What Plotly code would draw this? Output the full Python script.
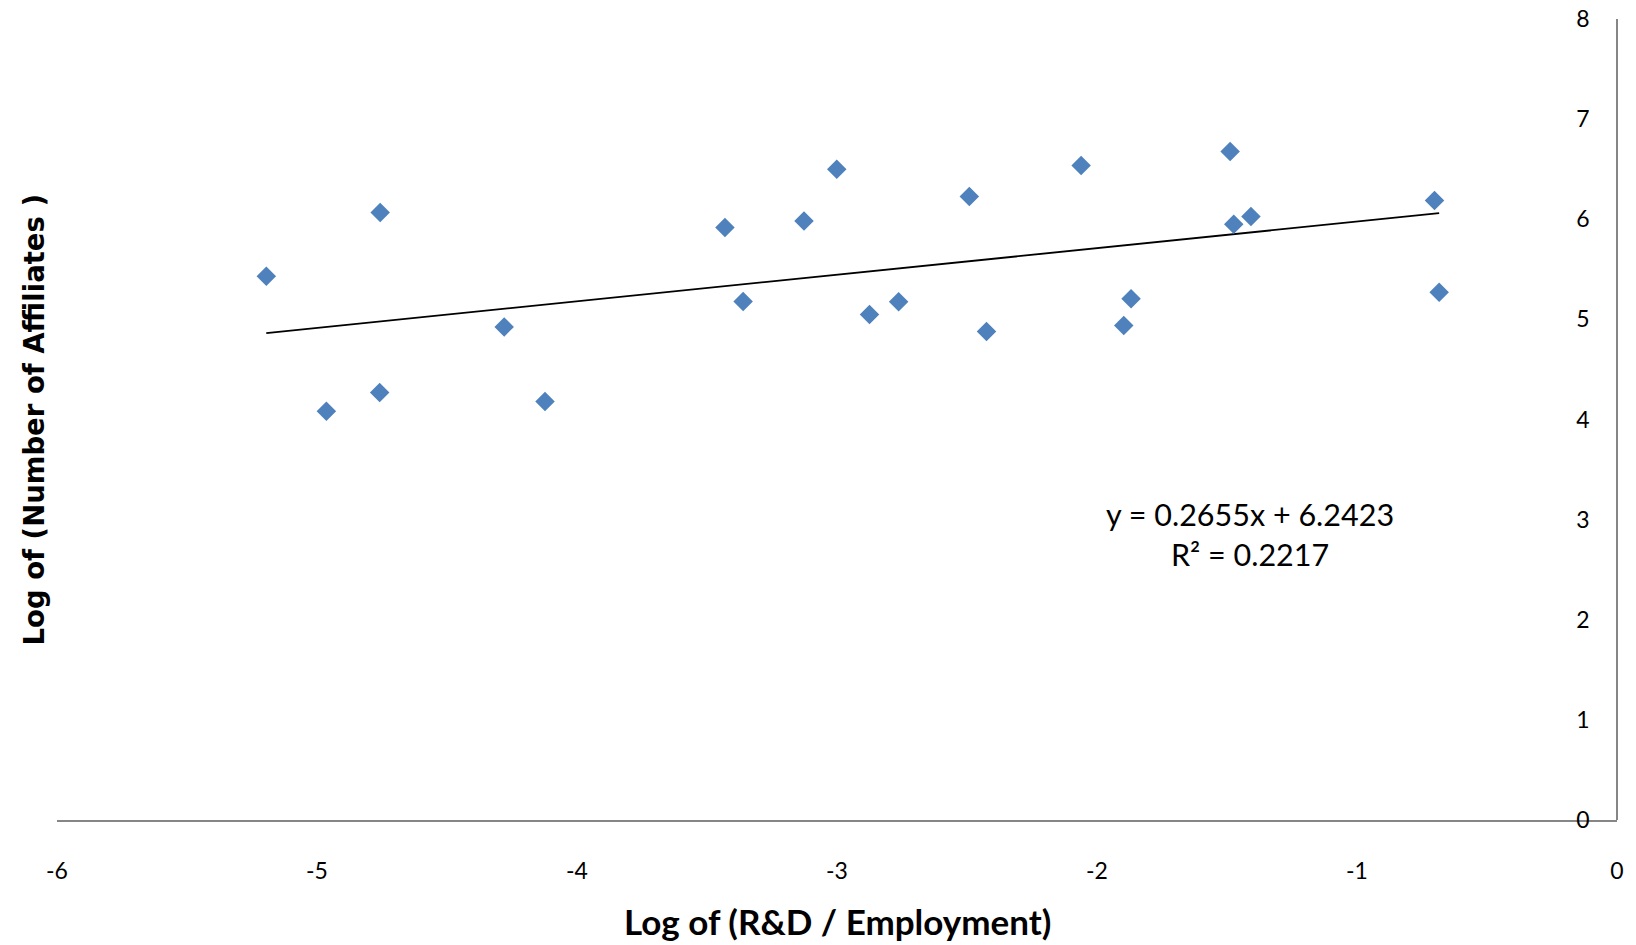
import plotly.graph_objects as go

# Data
x_vals = [-5.195, -4.964, -4.757, -4.759, -4.280, -4.123, -3.431, -3.361, -3.127,
          -3.001, -2.875, -2.763, -2.491, -2.425, -2.061, -1.897, -1.869, -1.488,
          -1.474, -1.408, -0.702, -0.684]
y_vals = [5.431, 4.083, 6.067, 4.269, 4.925, 4.179, 5.917, 5.178, 5.982,
          6.500, 5.048, 5.175, 6.227, 4.878, 6.537, 4.938, 5.205, 6.676,
          5.951, 6.027, 6.187, 5.272]

slope = 0.2655
intercept = 6.2423
r_squared = 0.2217

x_ticks = [-6, -5, -4, -3, -2, -1, 0]
y_ticks = [0, 1, 2, 3, 4, 5, 6, 7, 8]

x_title = "Log of (R&D / Employment)"
y_title = "Log of (Number of Affiliates )"

trend_x = [min(x_vals), max(x_vals)]
trend_y = [slope * v + intercept for v in trend_x]

fig = go.Figure()
fig.add_trace(go.Scatter(
    x=trend_x, y=trend_y, mode="lines",
    line=dict(color="black", width=1.8), showlegend=False, hoverinfo="skip"))
fig.add_trace(go.Scatter(
    x=x_vals, y=y_vals, mode="markers",
    marker=dict(symbol="diamond", size=15, color="#4F81BD",
                line=dict(width=0)),
    showlegend=False))

tick_font = dict(family="Lato, Calibri, sans-serif", size=23, color="black")

fig.update_layout(
    width=1636, height=945,
    margin=dict(l=57, r=19, t=19, b=125, autoexpand=False),
    paper_bgcolor="white", plot_bgcolor="white",
    xaxis=dict(range=[-6, 0], domain=[0, 1], tickvals=x_ticks,
               ticktext=[str(v) for v in x_ticks], automargin=False,
               showgrid=False, zeroline=False, showline=True, linecolor="#868686",
               linewidth=1.5, ticks="", tickfont=tick_font, ticklabelstandoff=30,
               ticklabeloverflow="allow"),
    yaxis=dict(range=[0, 8], tickvals=y_ticks, ticktext=[str(v) for v in y_ticks],
               anchor="free", position=1, side="left", automargin=False,
               showgrid=False, zeroline=False, showline=True, linecolor="#868686",
               linewidth=1.5, ticks="", tickfont=tick_font, ticklabelstandoff=22,
               ticklabeloverflow="allow"),
    annotations=[
        dict(text=f"y = {slope}x + {intercept}<br>R² = {r_squared}",
             x=-1.413, y=2.86, xref="x", yref="y", showarrow=False,
             font=dict(family="Lato, Calibri, sans-serif", size=30.5, color="black"),
             align="center"),
        dict(text=f"<b>{x_title}</b>", x=0.5, y=0, xref="paper", yref="paper",
             yanchor="middle", yshift=-101, showarrow=False,
             font=dict(family="Lato, Calibri, sans-serif", size=35, color="black")),
        dict(text=f"<b>{y_title}</b>", x=0, y=0.5, xref="paper", yref="paper",
             xanchor="center", xshift=-24, textangle=-90, showarrow=False,
             font=dict(family="DejaVu Sans, sans-serif", size=27.5, color="black")),
    ],
)

fig.write_html(
    "out.html",
    config={"displayModeBar": False},
    post_script="document.body.style.margin='0';document.body.style.overflow='hidden';",
)
